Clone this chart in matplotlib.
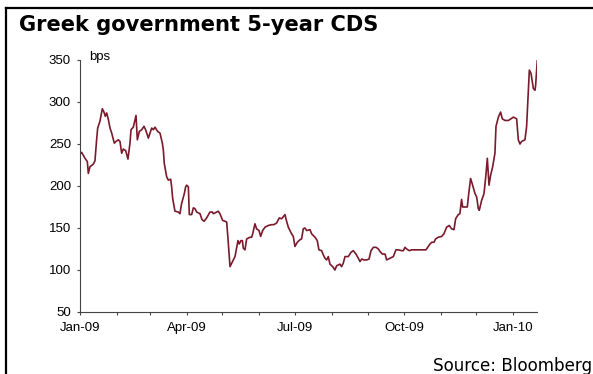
import datetime as dt
import matplotlib
matplotlib.use('Agg')
import matplotlib.pyplot as plt
import matplotlib.dates as mdates
from matplotlib.lines import Line2D

# Greek 5y CDS spread, bps; days counted from 1 Jan 2009
START = dt.date(2009, 1, 1)
days = [0, 1.4, 4.2, 6.2, 7.0, 8.4, 11.2, 12.6, 14.0, 14.9, 16.8, 18.8, 20.2, 21.3,
        22.5, 23.9, 25.3, 26.7, 28.9, 30.3, 32.3, 33.7, 35.1, 36.5, 38.5, 40.4, 42.1,
        43.0, 44.9, 47.2, 48.3, 50.0, 52.0, 53.9, 55.3, 57.6, 60.4, 61.8, 63.2, 65.4,
        67.4, 69.4, 70.2, 71.0, 73.0, 74.4, 76.4, 77.2, 78.1, 80.0, 82.8, 84.2, 85.6,
        87.9, 89.0, 89.9, 91.3, 92.1, 94.1, 95.5, 96.9, 98.3, 99.7, 101.1, 102.8, 104.5,
        106.7, 109.5, 111.5, 112.3, 115.1, 116.5, 117.9, 120.2, 122.2, 123.6, 124.7,
        126.4, 127.8, 129.2, 130.6, 132.0, 133.1, 134.2, 135.6, 136.8, 137.6, 139.0,
        140.4, 143.2, 144.6, 145.5, 147.4, 148.8, 150.8, 152.2, 153.9, 155.9, 158.7,
        161.5, 163.4, 165.7, 167.9, 169.9, 172.7, 173.5, 175.5, 178.3, 179.7, 181.1,
        183.1, 185.3, 186.7, 188.1, 189.5, 191.0, 193.8, 195.2, 198.0, 199.9, 201.3,
        203.6, 205.0, 206.4, 207.8, 209.2, 210.6, 212.9, 214.8, 216.2, 219.0, 220.4,
        221.8, 223.3, 226.1, 228.3, 230.3, 232.5, 234.5, 235.9, 237.3, 239.3, 241.5,
        243.5, 245.2, 247.2, 249.4, 251.4, 252.8, 254.7, 257.0, 258.4, 261.2, 264.0,
        266.2, 268.2, 271.0, 272.4, 273.8, 275.2, 277.4, 279.4, 283.6, 287.8, 291.5,
        293.5, 294.9, 296.3, 298.2, 299.6, 301.9, 304.7, 306.6, 308.9, 311.1, 313.1,
        315.1, 316.5, 318.7, 320.1, 321.5, 322.4, 324.4, 326.3, 327.7, 329.1, 330.8,
        332.8, 334.2, 335.6, 336.4, 338.4, 340.4, 342.0, 343.2, 344.6, 346.0, 347.7,
        349.6, 350.5, 352.5, 354.4, 355.8, 358.1, 360.9, 363.1, 365.1, 367.9, 369.3,
        370.7, 372.1, 374.9, 376.3, 378.6, 380.0, 382.0, 383.4, 383.9, 385.3]
cds = [238, 240, 233, 229, 215, 223, 226, 230, 255, 269, 277, 292, 288, 283,
       287, 279, 269, 263, 251, 253, 255, 253, 239, 244, 242, 232, 251,
       267, 270, 284, 255, 265, 267, 271, 267, 257, 269, 267, 270, 265,
       263, 251, 243, 227, 211, 207, 208, 199, 185, 170, 169, 167, 179,
       191, 199, 201, 199, 166, 166, 174, 173, 169, 168, 167, 160, 158,
       162, 169, 169, 167, 169, 170, 167, 159, 158, 157, 137,
       104, 108, 112, 116, 127, 135, 131, 135, 135, 126, 124,
       137, 139, 139, 143, 155, 149, 147, 140, 147, 151, 153,
       154, 154, 156, 162, 161, 166, 161, 151, 143, 140, 128,
       133, 136, 137, 149, 150, 147, 148, 143, 139, 135, 124,
       123, 118, 114, 112, 116, 107, 104, 100, 105, 107, 104,
       108, 116, 116, 121, 123, 119, 114, 110, 113, 112, 112,
       113, 123, 127, 127, 125, 122, 119, 119, 112, 114, 116,
       124, 124, 123, 123, 127, 125, 123, 124, 124, 124, 124,
       128, 131, 133, 133, 137, 139, 140, 143, 151, 153, 149,
       148, 161, 166, 167, 184, 175, 175, 175, 193, 209, 201,
       191, 187, 173, 171, 183, 191, 213, 233, 201, 213, 223,
       239, 271, 282, 288, 280, 278, 278, 280, 282, 280, 255,
       250, 253, 255, 271, 338, 334, 316, 314, 320, 350]

y_ticks = [50, 100, 150, 200, 250, 300, 350]
line_color = '#7a1a2b'
W, H = 593, 374

x = [mdates.date2num(START) + d for d in days]

fig = plt.figure(figsize=(W / 100, H / 100), dpi=100)
fig.patch.set_facecolor('white')
ax = fig.add_axes([80 / W, 1 - 312 / H, (537.3 - 80) / W, (312 - 60) / H])

ax.plot(x, cds, color=line_color, lw=1.2)

ax.set_ylim(50, 350)
ax.set_yticks(y_ticks)
ax.set_xlim(x[0], x[-1])

ax.xaxis.set_major_locator(mdates.MonthLocator(bymonth=[1, 4, 7, 10]))
ax.xaxis.set_major_formatter(mdates.DateFormatter('%b-%y'))
ax.xaxis.set_minor_locator(mdates.MonthLocator())

for side in ['top', 'right']:
    ax.spines[side].set_visible(False)
for side in ['left', 'bottom']:
    ax.spines[side].set_color('#444444')
    ax.spines[side].set_linewidth(0.8)

ax.tick_params(axis='both', which='both', direction='out', color='#444444',
               width=0.8, length=2.5, labelsize=9.5, labelcolor='black')
ax.tick_params(axis='x', which='major', pad=5)
ax.tick_params(axis='y', which='major', pad=4)
for lbl in ax.get_xticklabels() + ax.get_yticklabels():
    lbl.set_family('Liberation Sans')

ax.text(0.02, 1.0, 'bps', transform=ax.transAxes, ha='left', va='baseline',
        fontsize=9.5, family='Liberation Sans')

title = fig.text(19 / W, 1 - 31 / H, 'Greek government 5-year CDS', ha='left',
                 va='baseline', fontsize=14, fontweight='bold', family='DejaVu Sans')
source = fig.text(432.7 / W, 1 - 370.7 / H, 'Source: Bloomberg', ha='left',
                  va='baseline', fontsize=12, family='DejaVu Sans')

# scale the two headline texts to their pixel widths
renderer = fig.canvas.get_renderer()
for txt, target in [(title, 362), (source, 159)]:
    w = txt.get_window_extent(renderer).width
    txt.set_fontsize(txt.get_fontsize() * target / w)

# frame lines along the top and left edge
fig.add_artist(Line2D([5.5 / W, 1], [1 - 8 / H, 1 - 8 / H],
                      transform=fig.transFigure, color='black', lw=1.6))
fig.add_artist(Line2D([5.5 / W, 5.5 / W], [0, 1 - 8 / H],
                      transform=fig.transFigure, color='black', lw=1.6))

plt.savefig('out.png', dpi=100, facecolor='white')
